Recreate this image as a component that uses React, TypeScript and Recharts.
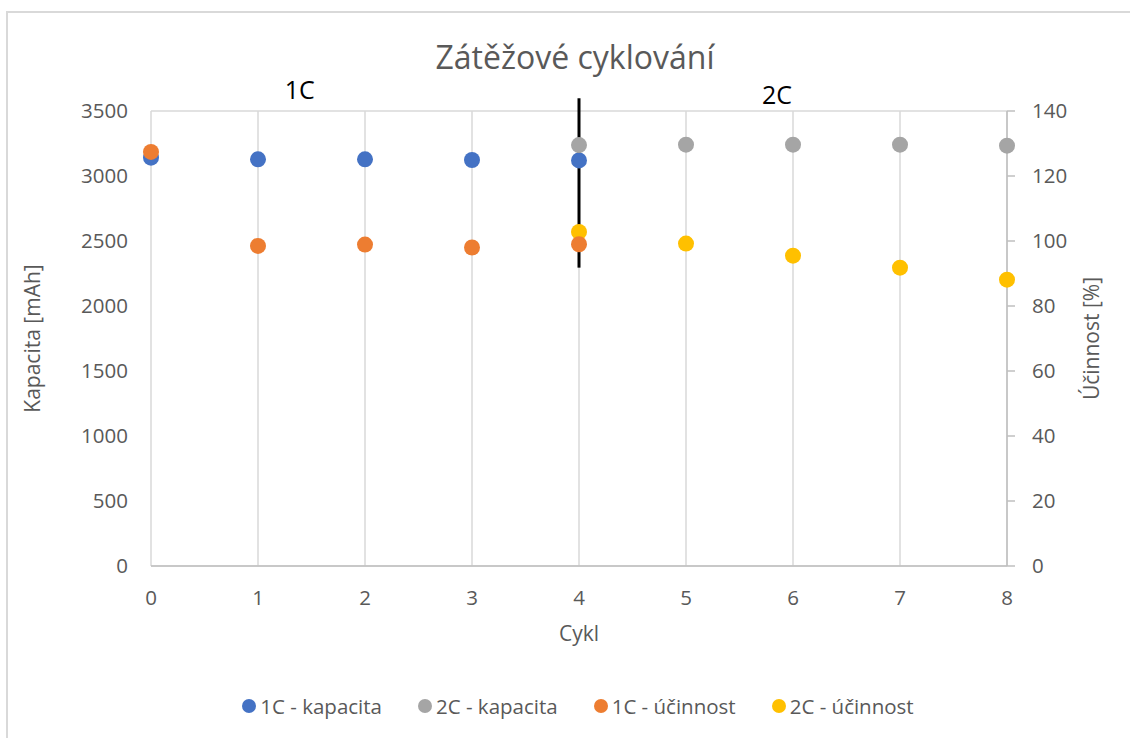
import React from "react";
import {
  ScatterChart,
  Scatter,
  XAxis,
  YAxis,
  CartesianGrid,
  ReferenceLine,
  ReferenceDot,
} from "recharts";

const cycles1C = [0, 1, 2, 3, 4];
const kapacita1C = [3141, 3128, 3128, 3123, 3120];
const ucinnost1C = [127.4, 98.5, 98.9, 98.0, 99.0];

const cycles2C = [4, 5, 6, 7, 8];
const kapacita2C = [3238, 3241, 3241, 3241, 3233];
const ucinnost2C = [102.8, 99.2, 95.5, 91.8, 88.1];

const xTicks = [0, 1, 2, 3, 4, 5, 6, 7, 8];
const leftTicks = [0, 500, 1000, 1500, 2000, 2500, 3000, 3500];
const rightTicks = [0, 20, 40, 60, 80, 100, 120, 140];

const seriesNames = ["1C - kapacita", "2C - kapacita", "1C - účinnost", "2C - účinnost"];
const seriesColors = ["#4472C4", "#A5A5A5", "#ED7D31", "#FFC000"];

// phase annotations above the plot (x in cycles, y on the mAh axis)
const phaseLabels = ["1C", "2C"];
const phaseLabelX = [1.39, 5.85];
const phaseLabelY = [3662, 3623];

// black divider between the two phases
const dividerCycle = 4;
const dividerFrom = 2295;
const dividerTo = 3598;

const toPoints = (xs: number[], ys: number[]) => xs.map((x, i) => ({ x, y: ys[i] }));

const FONT = "'Open Sans', sans-serif";
const TEXT = "#595959";

const dot = (color: string) => (p: any) => <circle cx={p.cx} cy={p.cy} r={8} fill={color} />;

export default function App() {
  return (
    <div
      style={{
        position: "absolute",
        left: 0,
        top: 0,
        width: 1130,
        height: 738,
        overflow: "hidden",
        background: "#fff",
        fontFamily: FONT,
      }}
    >
      <div
        style={{
          position: "absolute",
          left: 6,
          top: 11,
          width: 1300,
          height: 900,
          border: "2px solid #D9D9D9",
        }}
      />
      <div
        style={{
          position: "absolute",
          left: 0,
          width: 1150,
          top: 39,
          textAlign: "center",
          fontSize: 32,
          lineHeight: "36px",
          color: TEXT,
        }}
      >
        Zátěžové cyklování
      </div>
      <div style={{ position: "absolute", left: 0, top: 0 }}>
        <ScatterChart width={1130} height={738} margin={{ top: 111, right: 0, bottom: 92, left: 0 }}>
          <CartesianGrid stroke="#D9D9D9" strokeWidth={1.5} />
          <XAxis
            type="number"
            dataKey="x"
            domain={[0, 8]}
            ticks={xTicks}
            height={80}
            tickLine={false}
            tickSize={6}
            tickMargin={18}
            stroke="#BFBFBF"
            strokeWidth={1.5}
            tick={{ fill: TEXT, fontSize: 20.5, fontFamily: FONT }}
            label={{
              value: "Cykl",
              position: "insideBottom",
              offset: 5,
              fill: TEXT,
              fontSize: 21,
              fontFamily: FONT,
            }}
          />
          <YAxis
            yAxisId="left"
            type="number"
            dataKey="y"
            domain={[0, 3500]}
            ticks={leftTicks}
            width={151}
            axisLine={false}
            tickLine={false}
            tickSize={6}
            tickMargin={17}
            tick={{ fill: TEXT, fontSize: 20.5, fontFamily: FONT }}
            label={{
              value: "Kapacita [mAh]",
              angle: -90,
              position: "insideLeft",
              offset: 33,
              fill: TEXT,
              fontSize: 21,
              fontFamily: FONT,
              style: { textAnchor: "middle" },
            }}
          />
          <YAxis
            yAxisId="right"
            orientation="right"
            type="number"
            dataKey="y"
            domain={[0, 140]}
            ticks={rightTicks}
            width={123}
            stroke="#BFBFBF"
            strokeWidth={1.5}
            tickSize={8}
            tickMargin={17}
            tick={{ fill: TEXT, fontSize: 20.5, fontFamily: FONT }}
            label={{
              value: "Účinnost [%]",
              angle: -90,
              position: "insideRight",
              offset: 38,
              fill: TEXT,
              fontSize: 21,
              fontFamily: FONT,
              style: { textAnchor: "middle" },
            }}
          />
          <Scatter
            name={seriesNames[0]}
            yAxisId="left"
            data={toPoints(cycles1C, kapacita1C)}
            fill={seriesColors[0]}
            shape={dot(seriesColors[0])}
            isAnimationActive={false}
          />
          <Scatter
            name={seriesNames[1]}
            yAxisId="left"
            data={toPoints(cycles2C, kapacita2C)}
            fill={seriesColors[1]}
            shape={dot(seriesColors[1])}
            isAnimationActive={false}
          />
          <Scatter
            name={seriesNames[3]}
            yAxisId="right"
            data={toPoints(cycles2C, ucinnost2C)}
            fill={seriesColors[3]}
            shape={dot(seriesColors[3])}
            isAnimationActive={false}
          />
          <Scatter
            name={seriesNames[2]}
            yAxisId="right"
            data={toPoints(cycles1C, ucinnost1C)}
            fill={seriesColors[2]}
            shape={dot(seriesColors[2])}
            isAnimationActive={false}
          />
          <ReferenceLine
            yAxisId="left"
            segment={[
              { x: dividerCycle, y: dividerFrom },
              { x: dividerCycle, y: dividerTo },
            ]}
            stroke="#000"
            strokeWidth={3}
            ifOverflow="visible"
          />
          {phaseLabels.map((t, i) => (
            <ReferenceDot
              key={t}
              yAxisId="left"
              x={phaseLabelX[i]}
              y={phaseLabelY[i]}
              r={1}
              fill="none"
              stroke="none"
              ifOverflow="visible"
              label={{ value: t, position: "center", fill: "#000", fontSize: 25, fontFamily: FONT }}
            />
          ))}
        </ScatterChart>
      </div>
      <div
        style={{
          position: "absolute",
          left: 0,
          width: 1156,
          top: 693,
          display: "flex",
          justifyContent: "center",
          gap: 36,
          fontSize: 20.5,
          lineHeight: "26px",
          color: TEXT,
        }}
      >
        {seriesNames.map((n, i) => (
          <div key={n} style={{ display: "flex", alignItems: "center", gap: 4 }}>
            <span
              style={{
                width: 14,
                height: 14,
                borderRadius: 7,
                background: seriesColors[i],
                display: "inline-block",
              }}
            />
            <span>{n}</span>
          </div>
        ))}
      </div>
    </div>
  );
}
